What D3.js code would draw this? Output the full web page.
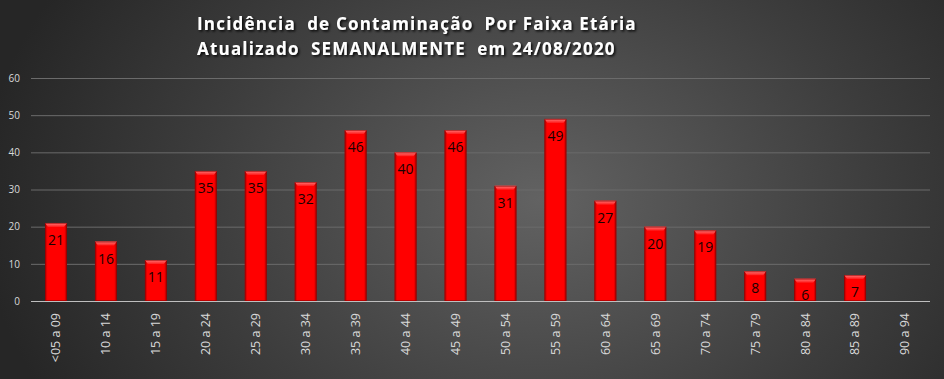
<!DOCTYPE html>
<html><head><meta charset="utf-8">
<script src="https://cdn.jsdelivr.net/npm/d3@7"></script>
<style>html,body{margin:0;padding:0;background:#333;}svg{display:block;}</style>
</head><body>
<script>
const categories = ["<05 a 09","10 a 14","15 a 19","20 a 24","25 a 29","30 a 34","35 a 39","40 a 44","45 a 49","50 a 54","55 a 59","60 a 64","65 a 69","70 a 74","75 a 79","80 a 84","85 a 89","90 a 94"];
const values = [21,16,11,35,35,32,46,40,46,31,49,27,20,19,8,6,7,null];
const yTicks = [0,10,20,30,40,50,60];
const titleLines = ["Incidência  de Contaminação  Por Faixa Etária","Atualizado  SEMANALMENTE  em 24/08/2020"];

const W = 944, H = 379;
const svg = d3.select("body").append("svg").attr("width", W).attr("height", H);
const defs = svg.append("defs");
const bg = defs.append("radialGradient").attr("id","bg").attr("gradientUnits","userSpaceOnUse")
  .attr("cx",540).attr("cy",200).attr("r",560).attr("gradientTransform","translate(540,200) scale(1,0.75) translate(-540,-200)");
bg.append("stop").attr("offset","0%").attr("stop-color","#626262");
bg.append("stop").attr("offset","60%").attr("stop-color","#3d3d3d");
bg.append("stop").attr("offset","100%").attr("stop-color","#262626");
svg.append("rect").attr("width",W).attr("height",H).attr("fill","url(#bg)");

const sideG = defs.append("linearGradient").attr("id","barG").attr("x1","0").attr("x2","1").attr("y1","0").attr("y2","0");
sideG.append("stop").attr("offset","0%").attr("stop-color","#b00000");
sideG.append("stop").attr("offset","12%").attr("stop-color","#ff0000");
sideG.append("stop").attr("offset","88%").attr("stop-color","#ff0000");
sideG.append("stop").attr("offset","100%").attr("stop-color","#a00000");
const topG = defs.append("linearGradient").attr("id","topG").attr("x1","0").attr("x2","0").attr("y1","0").attr("y2","1");
topG.append("stop").attr("offset","0%").attr("stop-color","#ff7a7a");
topG.append("stop").attr("offset","100%").attr("stop-color","#ff1a1a");

const sh = defs.append("filter").attr("id","tsh").attr("x","-10%").attr("y","-30%").attr("width","120%").attr("height","160%");
sh.append("feDropShadow").attr("dx",1.5).attr("dy",1.5).attr("stdDeviation",1).attr("flood-color","#000").attr("flood-opacity",0.9);

const x = d3.scaleBand().domain(categories).range([31, 930]).paddingInner(0.56).paddingOuter(0.28);
const y = d3.scaleLinear().domain([0,60]).range([301, 78]);

// gridlines
svg.append("g").selectAll("line").data(yTicks.filter(d=>d>0)).join("line")
  .attr("x1",31).attr("x2",930).attr("y1",d=>y(d)+0.5).attr("y2",d=>y(d)+0.5)
  .attr("stroke","#6b6b6b").attr("stroke-width",1);

// y axis labels
const yAxis = d3.axisLeft(y).tickValues(yTicks).tickSize(0).tickPadding(0);
const yg = svg.append("g").attr("transform","translate(20,0)").call(yAxis);
yg.select(".domain").remove();
yg.selectAll("text").attr("fill","#d9d9d9").style("font-family","'Open Sans', sans-serif").style("font-size","10px");

// bars
const bw = x.bandwidth();
const data = categories.map((c,i)=>({c, v: values[i]})).filter(d=>d.v!=null);
const bars = svg.append("g");
bars.selectAll("rect.b").data(data).join("rect").attr("class","b")
  .attr("x",d=>x(d.c)).attr("y",d=>y(d.v)).attr("width",bw).attr("height",d=>y(0)-y(d.v))
  .attr("fill","url(#barG)");
bars.selectAll("path.t").data(data).join("path").attr("class","t")
  .attr("d",d=>{const x0=x(d.c), y0=y(d.v); return `M${x0},${y0}L${x0+bw},${y0}L${x0+bw-3},${y0+4}L${x0+3},${y0+4}Z`;})
  .attr("fill","url(#topG)");
bars.selectAll("rect.o").data(data).join("rect").attr("class","o")
  .attr("x",d=>x(d.c)+0.5).attr("y",d=>y(d.v)+0.5).attr("width",bw-1).attr("height",d=>y(0)-y(d.v)-1)
  .attr("fill","none").attr("stroke","#8a0000").attr("stroke-width",0.8).attr("opacity",0.7);

// value labels
svg.append("g").selectAll("text").data(data).join("text")
  .attr("x",d=>x(d.c)+bw/2).attr("y",d=>Math.min(y(d.v)+22, y(0)-1))
  .attr("text-anchor","middle").attr("fill","#1a0000")
  .style("font-family","'Open Sans', sans-serif").style("font-size","14px")
  .text(d=>d.v);

// baseline
svg.append("line").attr("x1",31).attr("x2",930).attr("y1",y(0)+0.5).attr("y2",y(0)+0.5)
  .attr("stroke","#bfbfbf").attr("stroke-width",1);

// x axis labels
const xAxis = d3.axisBottom(x).tickSize(0).tickPadding(0);
const xg = svg.append("g").attr("transform",`translate(0,${y(0)})`).call(xAxis);
xg.select(".domain").remove();
xg.selectAll("text")
  .attr("transform","rotate(-90)").attr("x",-12).attr("y",0).attr("dy","0.35em")
  .attr("text-anchor","end").attr("fill","#d9d9d9")
  .style("font-family","'Open Sans', sans-serif").style("font-size","12.5px");

// title
const tg = svg.append("g").attr("filter","url(#tsh)");
tg.selectAll("text").data(titleLines).join("text")
  .attr("x",197).attr("y",(d,i)=>30+i*25)
  .attr("text-anchor","start").attr("fill","#ffffff")
  .style("font-family","'Open Sans', sans-serif").style("font-weight","bold").style("font-size","17px")
  .style("letter-spacing","1.2px").style("white-space","pre")
  .text(d=>d);
</script>
</body></html>
